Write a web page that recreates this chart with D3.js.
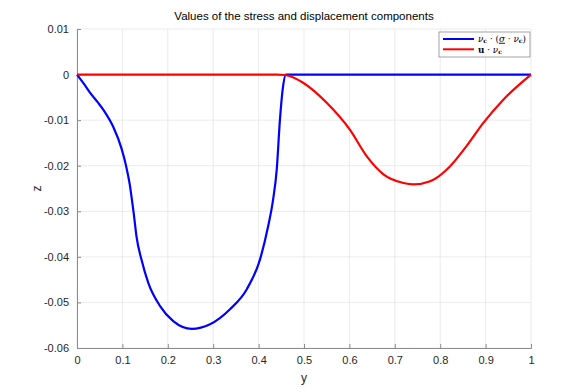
<!DOCTYPE html>
<html>
<head>
<meta charset="utf-8">
<title>stress and displacement</title>
<script src="https://cdn.jsdelivr.net/npm/d3@7"></script>
<style>
  body { margin: 0; background: #fff; }
  text { font-family: "Liberation Sans", Arial, sans-serif; }
</style>
</head>
<body>
<div id="container"></div>
<script>
// blue: nu_c . (sigma . nu_c)
var stressX = [0, 0.015, 0.029, 0.045, 0.060, 0.080, 0.098, 0.108, 0.116, 0.121, 0.125, 0.131, 0.142, 0.157, 0.183, 0.212, 0.253, 0.293, 0.337, 0.374, 0.403, 0.421, 0.432, 0.440, 0.447, 0.453, 0.460, 0.6, 0.8, 1.0];
var stressY = [0, -0.0020, -0.0040, -0.0060, -0.0080, -0.0115, -0.0162, -0.0200, -0.0240, -0.0275, -0.0305, -0.0355, -0.0406, -0.0457, -0.0508, -0.0541, -0.0558, -0.0548, -0.0515, -0.0471, -0.0406, -0.0333, -0.0274, -0.0208, -0.0099, -0.0033, 0, 0, 0, 0];
// red: u . nu_c
var dispX = [0, 0.2, 0.4, 0.44, 0.458, 0.498, 0.550, 0.601, 0.638, 0.675, 0.719, 0.741, 0.778, 0.822, 0.858, 0.895, 0.939, 1.0];
var dispY = [0, 0, 0, 0, -0.0001, -0.0018, -0.0062, -0.0121, -0.0179, -0.0219, -0.0238, -0.0241, -0.0234, -0.0201, -0.0157, -0.0106, -0.0055, 0];
var xTicks = [0, 0.1, 0.2, 0.3, 0.4, 0.5, 0.6, 0.7, 0.8, 0.9, 1];
var yTicks = [0.01, 0, -0.01, -0.02, -0.03, -0.04, -0.05, -0.06];

var W = 588, H = 392;
var margin = {top: 29, right: 57, bottom: 44, left: 77};
var width = W - margin.left - margin.right,
    height = H - margin.top - margin.bottom;

var x = d3.scaleLinear().domain([0, 1]).range([0, width]);
var y = d3.scaleLinear().domain([-0.06, 0.01]).range([height, 0]);

var svg = d3.select("#container").append("svg")
    .attr("width", W).attr("height", H)
  .append("g")
    .attr("transform", "translate(" + margin.left + "," + margin.top + ")");

// grid
svg.selectAll(".gx").data(xTicks).enter().append("line")
    .attr("x1", d => x(d)).attr("x2", d => x(d))
    .attr("y1", 0).attr("y2", height)
    .attr("stroke", "#e6e6e6").attr("stroke-width", 0.8);
svg.selectAll(".gy").data(yTicks).enter().append("line")
    .attr("y1", d => y(d)).attr("y2", d => y(d))
    .attr("x1", 0).attr("x2", width)
    .attr("stroke", "#e6e6e6").attr("stroke-width", 0.8);

var fmt = function(d) { return d3.format("")(+d.toFixed(2)).replace("−", "-"); };

var xAxis = svg.append("g")
    .attr("transform", "translate(0," + height + ")")
    .call(d3.axisBottom(x).tickValues(xTicks).tickSize(-4).tickPadding(8).tickFormat(fmt));
var yAxis = svg.append("g")
    .call(d3.axisLeft(y).tickValues(yTicks).tickSize(-4).tickPadding(8).tickFormat(fmt));
[xAxis, yAxis].forEach(function(a) {
  a.select(".domain").attr("stroke", "#8c8c8c").attr("stroke-width", 1);
  a.selectAll(".tick line").attr("stroke", "#8c8c8c");
  a.selectAll(".tick text").attr("fill", "#262626").attr("font-size", 11)
    .style("font-family", "Liberation Sans, Arial, sans-serif");
});

var line = d3.line()
    .x(d => x(d[0])).y(d => y(d[1]))
    .curve(d3.curveMonotoneX);

svg.append("path")
    .datum(d3.zip(stressX, stressY))
    .attr("d", line).attr("fill", "none")
    .attr("stroke", "#0000ff").attr("stroke-width", 2.2);
svg.append("path")
    .datum(d3.zip(dispX, dispY))
    .attr("d", line).attr("fill", "none")
    .attr("stroke", "#ff0000").attr("stroke-width", 2.2);

// title and labels
svg.append("text")
    .attr("x", width / 2).attr("y", -9)
    .attr("text-anchor", "middle").attr("font-size", 11.5).attr("fill", "#000")
    .text("Values of the stress and displacement components");
svg.append("text")
    .attr("x", width / 2).attr("y", height + 34)
    .attr("text-anchor", "middle").attr("font-size", 12).attr("fill", "#262626")
    .text("y");
svg.append("text")
    .attr("transform", "translate(" + (-36) + "," + (height / 2) + ") rotate(-90)")
    .attr("text-anchor", "middle").attr("font-size", 12).attr("fill", "#262626")
    .text("z");

// legend
var lg = svg.append("g").attr("transform", "translate(" + (width - 92) + ",3)");
lg.append("rect").attr("width", 91).attr("height", 25)
    .attr("fill", "#fff").attr("stroke", "#8c8c8c").attr("stroke-width", 0.8);
lg.append("line").attr("x1", 4).attr("x2", 35).attr("y1", 7).attr("y2", 7)
    .attr("stroke", "#0000ff").attr("stroke-width", 2);
lg.append("line").attr("x1", 4).attr("x2", 35).attr("y1", 17.3).attr("y2", 17.3)
    .attr("stroke", "#ff0000").attr("stroke-width", 2);
var t1 = lg.append("text").attr("x", 39).attr("y", 9.8).attr("font-size", 8.8)
    .style("font-family", "DejaVu Serif, serif");
t1.append("tspan").attr("font-style", "italic").text("ν");
t1.append("tspan").attr("font-weight", "bold").attr("font-size", 6.2).attr("dy", 1.2).text("c");
t1.append("tspan").attr("dy", -1.2).text(" · (");
t1.append("tspan").attr("font-style", "italic").attr("text-decoration", "underline").text("σ");
t1.append("tspan").text(" · ");
t1.append("tspan").attr("font-style", "italic").text("ν");
t1.append("tspan").attr("font-weight", "bold").attr("font-size", 6.2).attr("dy", 1.2).text("c");
t1.append("tspan").attr("dy", -1.2).text(")");
var t2 = lg.append("text").attr("x", 39).attr("y", 21).attr("font-size", 8.8)
    .style("font-family", "DejaVu Serif, serif");
t2.append("tspan").attr("font-weight", "bold").text("u");
t2.append("tspan").text(" · ");
t2.append("tspan").attr("font-style", "italic").text("ν");
t2.append("tspan").attr("font-weight", "bold").attr("font-size", 6.2).attr("dy", 1.2).text("c");
</script>
</body>
</html>
